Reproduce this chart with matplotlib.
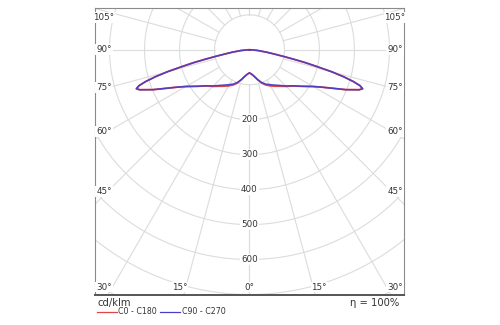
import numpy as np
import matplotlib.pyplot as plt
from matplotlib.lines import Line2D

# luminous intensity distribution, cd/klm, gamma angle from nadir
gamma = [0, 5, 10, 15, 20, 25, 30, 35, 40, 45, 50, 55, 60, 62.5, 65, 67.5,
         70, 71, 72, 73, 74, 75, 76, 77, 78, 79, 80, 82, 85, 88, 90]
c0_c180 = [66, 70, 77, 88, 101, 111, 119, 127, 136, 148, 161, 182, 210, 231, 260, 298,
           334, 342, 332, 310, 280, 244, 200, 165, 128, 98, 76, 50, 25, 8, 0]
c90_c270 = [66, 70, 77, 88, 99, 108, 115, 123, 133, 146, 160, 182, 210, 231, 260, 298,
            334, 342, 332, 310, 280, 244, 200, 165, 128, 98, 76, 50, 25, 8, 0]

rings = [100, 200, 300, 400, 500, 600, 700, 800]
ring_labels = [200, 300, 400, 500, 600]
side_angles = [105, 90, 75, 60, 45]
bottom_angles = [30, 15, 0]
efficiency = "η = 100%"
unit = "cd/klm"
series_names = ["C0 - C180", "C90 - C270"]
series_colors = ["#e04444", "#4a3cc8"]

XMAX, YMIN, YMAX = 443, -700, 121
px = 886 / 310.0   # data units per pixel

fig = plt.figure(figsize=(5, 3.25), dpi=100)
ax = fig.add_axes([94.5 / 500, 1 - 294.5 / 325, 310 / 500, 287 / 325])
ax.set_xlim(-XMAX, XMAX)
ax.set_ylim(YMIN, YMAX)
ax.set_xticks([])
ax.set_yticks([])
for s in ["left", "right", "top"]:
    ax.spines[s].set_color("#8a8a8a")
    ax.spines[s].set_linewidth(0.8)
ax.spines["bottom"].set_color("#555555")
ax.spines["bottom"].set_linewidth(1.4)

grid_kw = dict(color="#dcdcdc", lw=0.8, zorder=1)
t = np.linspace(0, 2 * np.pi, 400)
for r in rings:
    ax.plot(r * np.sin(t), r * np.cos(t), **grid_kw)
for a in range(0, 181, 15):
    ar = np.radians(a)
    for sgn in (-1, 1):
        ax.plot([sgn * 100 * np.sin(ar), sgn * 1200 * np.sin(ar)],
                [-100 * np.cos(ar), -1200 * np.cos(ar)], **grid_kw)

lab_kw = dict(fontsize=6.3, color="#333333", zorder=5,
              bbox=dict(facecolor="white", edgecolor="none", pad=0.6))

for v in ring_labels:
    ax.text(0, -v, str(v), ha="center", va="center", **lab_kw)

# angle labels along the side edges
for a in side_angles:
    ar = np.radians(a)
    xr = XMAX - 13 * px
    y = -xr / np.tan(ar)
    y = min(y, YMAX - 10 * px)
    for sgn in (-1, 1):
        ax.text(sgn * (XMAX - 9.5 * px), y, f"{a}°", ha="center", va="center", **lab_kw)

# angle labels along the bottom edge
for a in bottom_angles:
    ar = np.radians(a)
    xh = -YMIN * np.tan(ar)
    for sgn in (-1, 1):
        xl = xh + (4 * px if a else 0)
        ax.text(sgn * xl, YMIN + 7.5 * px, f"{a}°", ha="center", va="center", **lab_kw)

# intensity curves, mirrored for both half planes
g = np.radians(gamma)
for vals, col, lw, al in [(c0_c180, series_colors[0], 1.3, 1.0),
                          (c90_c270, series_colors[1], 1.1, 0.95)]:
    v = np.array(vals, dtype=float)
    xs = np.concatenate([-(v * np.sin(g))[::-1], v * np.sin(g)])
    ys = np.concatenate([-(v * np.cos(g))[::-1], -v * np.cos(g)])
    ax.plot(xs, ys, color=col, lw=lw, alpha=al, zorder=3)

# footer: unit, efficiency and legend
fig.text(97.5 / 500, 1 - 303 / 325, unit, fontsize=7.2, color="#333333", ha="left", va="center")
fig.text(399.5 / 500, 1 - 303 / 325, efficiency, fontsize=7.2, color="#333333", ha="right", va="center")
ly = 1 - 311.5 / 325
for (x0, x1, tx), name, col in zip([(97, 117, 118.5), (160, 180, 181.5)], series_names, series_colors):
    fig.add_artist(Line2D([x0 / 500, x1 / 500], [ly, ly], color=col, lw=0.9))
    fig.text(tx / 500, ly, name, fontsize=5.7, color="#333333", ha="left", va="center")

fig.savefig("out.png", dpi=100)
